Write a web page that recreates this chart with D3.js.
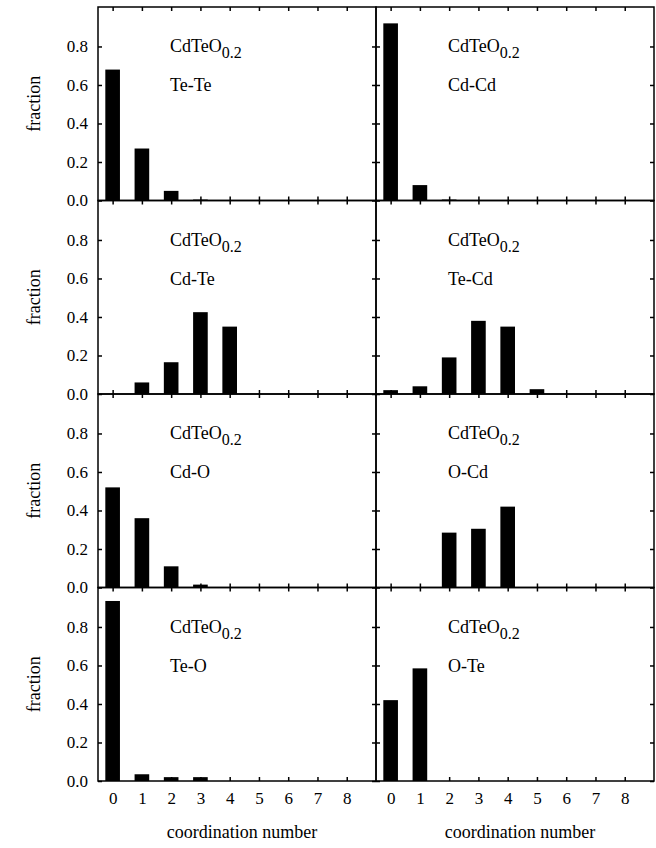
<!DOCTYPE html>
<html><head><meta charset="utf-8">
<script src="https://cdn.jsdelivr.net/npm/d3@7"></script>
<style>body{margin:0;background:#fff} svg text{font-family:'Liberation Serif','Times New Roman',Times,serif !important}</style>
</head><body><svg id="c" width="656" height="848"></svg>
<script>
const coord = [0, 1, 2, 3, 4, 5, 6, 7, 8];
const yTicks = [0, 0.2, 0.4, 0.6, 0.8];
const pairs = ['Te-Te', 'Cd-Cd', 'Cd-Te', 'Te-Cd', 'Cd-O', 'O-Cd', 'Te-O', 'O-Te'];
const teTe = [0.68, 0.27, 0.05, 0.005];
const cdCd = [0.92, 0.08, 0.005];
const cdTe = [0, 0.06, 0.165, 0.425, 0.35];
const teCd = [0.02, 0.04, 0.19, 0.38, 0.35, 0.025];
const cdO = [0.52, 0.36, 0.11, 0.015];
const oCd = [0, 0, 0.285, 0.305, 0.42];
const teO = [0.935, 0.035, 0.02, 0.02];
const oTe = [0.42, 0.585];
const series = [teTe, cdCd, cdTe, teCd, cdO, oCd, teO, oTe];

const svg = d3.select('#c');
const left0 = 98, pw = 278, top0 = 7, ph = 193.5;

pairs.forEach((name, k) => {
  const col = k % 2, row = Math.floor(k / 2);
  const x0 = left0 + col * pw, y0 = top0 + row * ph;
  const x = d3.scaleLinear().domain([-0.5, 9.0]).range([x0, x0 + pw]);
  const y = d3.scaleLinear().domain([0, 1.005]).range([y0 + ph, y0]);
  const g = svg.append('g');

  g.selectAll('rect').data(series[k]).enter().append('rect')
    .attr('x', (d, i) => x(i - 0.25))
    .attr('width', x(0.25) - x(-0.25))
    .attr('y', d => y(d))
    .attr('height', d => y(0) - y(d))
    .attr('fill', '#000');

  const bx = d3.axisBottom(x).tickValues(coord).tickSize(-4).tickFormat(row === 3 ? d3.format('d') : '').tickPadding(11);
  const tx = d3.axisTop(x).tickValues(coord).tickSize(-4).tickFormat('');
  const ly = d3.axisLeft(y).tickValues(yTicks).tickSize(-4).tickFormat(col === 0 ? d3.format('.1f') : '').tickPadding(10);
  const ry = d3.axisRight(y).tickValues(yTicks).tickSize(-4).tickFormat('');
  [[bx, `translate(0,${y0 + ph})`], [tx, `translate(0,${y0})`], [ly, `translate(${x0},0)`], [ry, `translate(${x0 + pw},0)`]]
    .forEach(([ax, t]) => {
      const a = g.append('g').attr('transform', t).call(ax).attr('font-size', 17);
      a.select('.domain').remove();
      a.selectAll('line').attr('stroke', '#000').attr('stroke-width', 1.5);
      a.selectAll('text').attr('fill', '#000');
    });

  g.append('rect').attr('x', x0).attr('y', y0).attr('width', pw).attr('height', ph)
    .attr('fill', 'none').attr('stroke', '#000').attr('stroke-width', 1.5);

  const t1 = g.append('text').attr('x', x0 + 72).attr('y', y0 + 45).attr('font-size', 18);
  t1.append('tspan').text('CdTeO');
  t1.append('tspan').attr('dy', 6).attr('font-size', 16).text('0.2');
  g.append('text').attr('x', x0 + 72).attr('y', y0 + 84).attr('font-size', 18).text(name);

  if (col === 0) {
    svg.append('text').attr('transform', `translate(40,${y0 + ph / 2}) rotate(-90)`)
      .attr('text-anchor', 'middle').attr('font-size', 18).text('fraction');
  }
  if (row === 3) {
    svg.append('text').attr('x', x0 + pw / 2 + 5).attr('y', 838)
      .attr('text-anchor', 'middle').attr('font-size', 18).text('coordination number');
  }
});
</script></body></html>
